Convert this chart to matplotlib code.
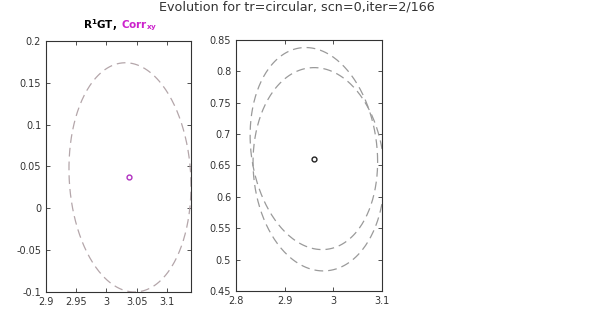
import numpy as np
import matplotlib
matplotlib.use("Agg")
import matplotlib.pyplot as plt

# ---- data ----
suptitle = "Evolution for tr=circular, scn=0,iter=2/166"

# left panel
left_xlim = [2.9, 3.14]
left_ylim = [-0.1, 0.2]
left_xticks = [2.9, 2.95, 3.0, 3.05, 3.1]
left_xticklabels = ["2.9", "2.95", "3", "3.05", "3.1"]
left_yticks = [-0.1, -0.05, 0.0, 0.05, 0.1, 0.15, 0.2]
left_yticklabels = ["-0.1", "-0.05", "0", "0.05", "0.1", "0.15", "0.2"]
left_ell_cx = [3.039]
left_ell_cy = [0.037]
left_ell_sx = [0.101]
left_ell_sy = [0.137]
left_ell_rho = [-0.075]
left_point = [3.038, 0.0375]

# right panel
right_xlim = [2.8, 3.1]
right_ylim = [0.45, 0.85]
right_xticks = [2.8, 2.9, 3.0, 3.1]
right_xticklabels = ["2.8", "2.9", "3", "3.1"]
right_yticks = [0.45, 0.5, 0.55, 0.6, 0.65, 0.7, 0.75, 0.8, 0.85]
right_yticklabels = ["0.45", "0.5", "0.55", "0.6", "0.65", "0.7", "0.75", "0.8", "0.85"]
right_ell_cx = [2.960, 2.970]
right_ell_cy = [0.677, 0.644]
right_ell_sx = [0.131, 0.135]
right_ell_sy = [0.161, 0.162]
right_ell_rho = [-0.13, -0.07]
right_point = [2.961, 0.660]

W, H = 603, 325
fig = plt.figure(figsize=(W / 100, H / 100), dpi=100)


def ax_rect(l, t, r, b):
    return [l / W, 1 - b / H, (r - l) / W, (b - t) / H]


def ellipse(ax, cx, cy, sx, sy, rho, color):
    t = np.linspace(0, 2 * np.pi, 300)
    x = cx + sx * np.cos(t)
    y = cy + sy * (rho * np.cos(t) + np.sqrt(1 - rho ** 2) * np.sin(t))
    ax.plot(x, y, linestyle=(0, (7, 4)), color=color, lw=0.9)


def style(ax):
    for s in ax.spines.values():
        s.set_color("#333333")
        s.set_linewidth(0.8)
    ax.tick_params(direction="in", top=True, right=True, length=3,
                   labelsize=7, colors="#333333", width=0.6)


axL = fig.add_axes(ax_rect(46, 41, 191, 292))
for cx, cy, sx, sy, r in zip(left_ell_cx, left_ell_cy, left_ell_sx, left_ell_sy, left_ell_rho):
    ellipse(axL, cx, cy, sx, sy, r, "#b4a6aa")
axL.plot([left_point[0]], [left_point[1]], marker="o", ms=3.5, mfc="none",
         mec="#b030c0", mew=1.0, ls="none")
axL.set_xlim(left_xlim)
axL.set_ylim(left_ylim)
axL.set_xticks(left_xticks)
axL.set_xticklabels(left_xticklabels)
axL.set_yticks(left_yticks)
axL.set_yticklabels(left_yticklabels)
style(axL)
axL.text(0.49, 1.03, r"$\mathbf{R^1GT,}$", transform=axL.transAxes,
         ha="right", va="bottom", fontsize=7.5, fontweight="bold", color="black")
axL.text(0.52, 1.03, r"$\mathbf{Corr_{xy}}$", transform=axL.transAxes,
         ha="left", va="bottom", fontsize=7.5, fontweight="bold", color="#cc22cc")

axR = fig.add_axes(ax_rect(236, 40, 382, 291))
for cx, cy, sx, sy, r in zip(right_ell_cx, right_ell_cy, right_ell_sx, right_ell_sy, right_ell_rho):
    ellipse(axR, cx, cy, sx, sy, r, "#9a9a9a")
axR.plot([right_point[0]], [right_point[1]], marker="o", ms=3.5, mfc="none",
         mec="#222222", mew=1.0, ls="none")
axR.set_xlim(right_xlim)
axR.set_ylim(right_ylim)
axR.set_xticks(right_xticks)
axR.set_xticklabels(right_xticklabels)
axR.set_yticks(right_yticks)
axR.set_yticklabels(right_yticklabels)
style(axR)

fig.text(297 / W, 1 - 7 / H, suptitle, ha="center", va="center",
         fontsize=9.2, color="#333333")

fig.savefig("out.png", dpi=100)
